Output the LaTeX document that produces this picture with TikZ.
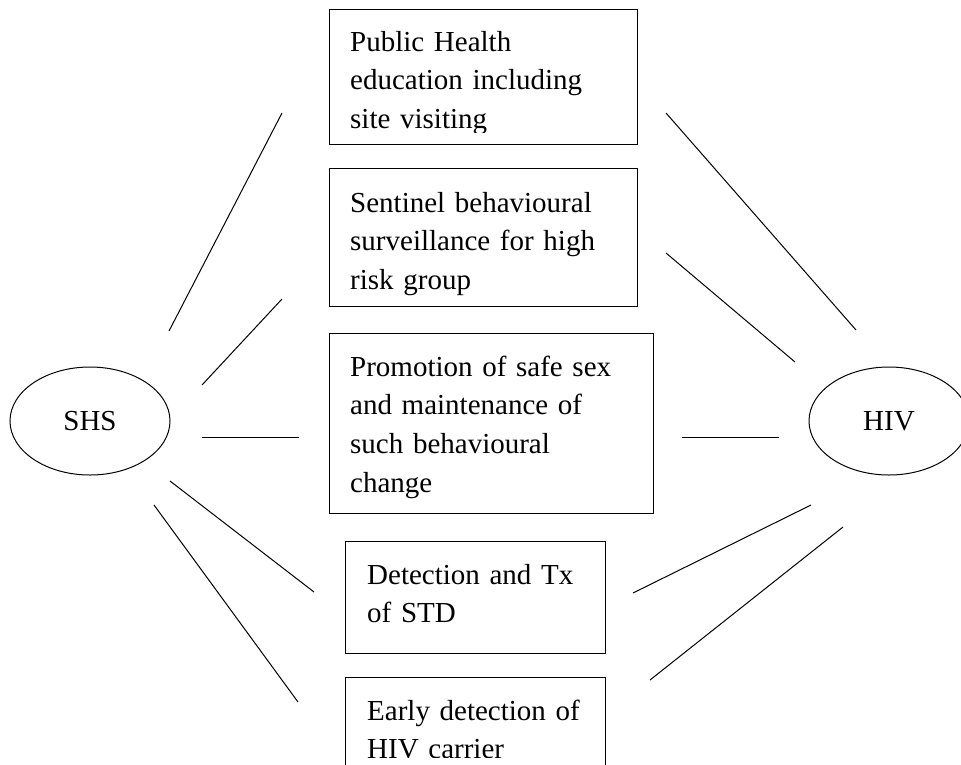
\documentclass[tikz,border=0pt]{standalone}
\usepackage{fontspec}
\setmainfont{Liberation Serif}
\usetikzlibrary{shapes.geometric}

\begin{document}
\begin{tikzpicture}[x=1pt,y=-1pt]
\tikzstyle{hub}=[draw,shape=ellipse,line width=1pt,minimum width=160pt,minimum height=108pt,inner sep=0pt,font=\fontsize{29}{38.75}\selectfont]
\tikzstyle{frame}=[draw,shape=rectangle,line width=1pt,inner sep=0pt]
\tikzstyle{boxtext}=[anchor=base west,inner sep=0pt,text width=290pt,align=left,font=\fontsize{29}{38.75}\selectfont]
\tikzstyle{link}=[line width=1pt]
\useasboundingbox (0,0) rectangle (961,764);
\clip (0,0) rectangle (961,764);
\path (90,421) node[hub](shs){SHS} (889,421) node[hub](hiv){HIV};
\path (483,76.5) node[frame,minimum width=308pt,minimum height=135pt](pub){}
      (483,237) node[frame,minimum width=308pt,minimum height=138pt](sen){}
      (491,423) node[frame,minimum width=324pt,minimum height=180pt](pro){}
      (475,597) node[frame,minimum width=260pt,minimum height=112pt](det){}
      (475,723) node[frame,minimum width=260pt,minimum height=92pt](ear){};
% text cut off at the bottom of each box
\begin{scope}
\clip (pub.north west) rectangle ([yshift=12pt]pub.south east);
\node[boxtext](pubtxt) at (350,51) {Public Health\\education including\\site visiting};
\end{scope}
\begin{scope}
\clip (sen.north west) rectangle ([yshift=11pt]sen.south east);
\node[boxtext](sentxt) at (350,212) {Sentinel behavioural\\surveillance for high\\risk group};
\end{scope}
\begin{scope}
\clip (pro.north west) rectangle ([yshift=12pt]pro.south east);
\node[boxtext](protxt) at (350,376) {Promotion of safe sex\\and maintenance of\\such behavioural\\change};
\end{scope}
\begin{scope}
\clip (det.north west) rectangle ([yshift=12pt]det.south east);
\node[boxtext](dettxt) at (367,584) {Detection and Tx\\of STD};
\end{scope}
\begin{scope}
\clip (ear.north west) rectangle ([yshift=12pt]ear.south east);
\node[boxtext](eartxt) at (367,720) {Early detection of\\HIV carrier};
\end{scope}
% loose ends of the lines
\path (169,331) coordinate(s1) (282,113) coordinate(a1)
      (202,385) coordinate(s2) (282,299) coordinate(a2)
      (202,437) coordinate(s3) (299,437) coordinate(a3)
      (170,481) coordinate(s4) (314,592) coordinate(a4)
      (154,505) coordinate(s5) (298,702) coordinate(a5);
\path (666,113) coordinate(c1) (856,330) coordinate(h1)
      (666,253) coordinate(c2) (795,362) coordinate(h2)
      (682,437) coordinate(c3) (779,437) coordinate(h3)
      (633,593) coordinate(c4) (811,505) coordinate(h4)
      (650,680) coordinate(c5) (843,527) coordinate(h5);
\draw[link] (s1) -- (a1);
\draw[link] (s2) -- (a2);
\draw[link] (s3) -- (a3);
\draw[link] (s4) -- (a4);
\draw[link] (s5) -- (a5);
\draw[link] (c1) -- (h1);
\draw[link] (c2) -- (h2);
\draw[link] (c3) -- (h3);
\draw[link] (c4) -- (h4);
\draw[link] (c5) -- (h5);
\end{tikzpicture}
\end{document}
